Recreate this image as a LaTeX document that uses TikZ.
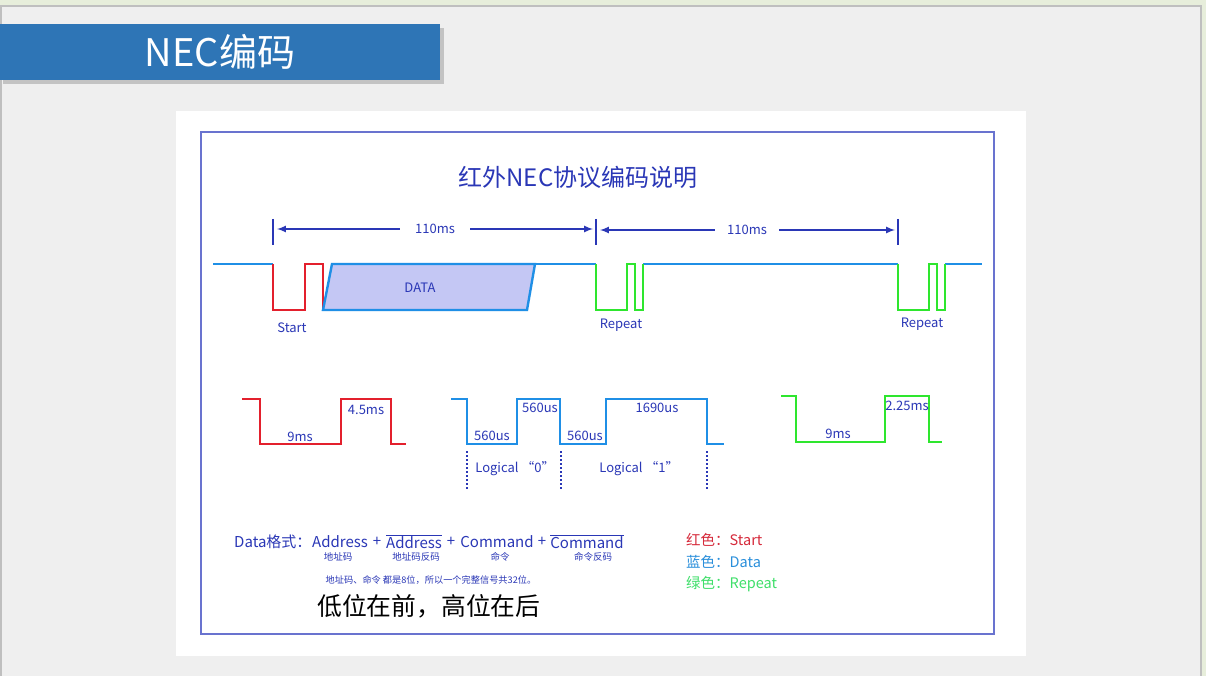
\documentclass[tikz,border=0pt]{standalone}
\usepackage{fontspec}
\setmainfont{Noto Sans CJK SC}
\usepackage{tikz}
\usetikzlibrary{
  calc,%
  positioning,%
  arrows
}
\definecolor{stripbg}{HTML}{E7EEDB}
\definecolor{pagebg}{HTML}{EFEFEF}
\definecolor{banner}{HTML}{2E75B6}
\definecolor{frameblue}{HTML}{6973CF}
\definecolor{ink}{HTML}{2A37B6}
\definecolor{sigred}{HTML}{E3202D}
\definecolor{sigblue}{HTML}{1F8FE6}
\definecolor{siggreen}{HTML}{2EE62E}
\definecolor{datafill}{HTML}{C4C7F4}
\definecolor{keyred}{HTML}{D62A3B}
\definecolor{keyblue}{HTML}{2A8FDB}
\definecolor{keygreen}{HTML}{3FDF6A}
\tikzset{>=latex}
\tikzset{
  lbl/.style={text=ink, inner sep=0pt, font=\fontsize{13}{13}\selectfont},
  fmt/.style={text=ink, inner sep=0pt, font=\fontsize{15}{15}\selectfont},
  sub/.style={text=ink, inner sep=0pt, font=\fontsize{9.5}{9.5}\selectfont},
  key/.style={inner sep=0pt, anchor=west, font=\fontsize{14.5}{14.5}\selectfont},
  wave/.style={line width=2.4pt, line join=miter},
  dim/.style={ink, line width=2pt},
  split/.style={ink, line width=1.5pt, dash pattern=on 1.5pt off 2.5pt},
}

\begin{document}
\begin{tikzpicture}[x=1pt, y=-1pt]
  \useasboundingbox (0,0) rectangle (1206,676);
  % slide background
  \fill[stripbg] (0,0) rectangle (1206,676); %
  \filldraw[fill=pagebg, draw=black!25, line width=1.5pt] (1,6) rectangle (1201,690); %
  \fill[black, opacity=0.18] (3,28) rectangle (444,84); %
  \fill[banner] (0,24) rectangle (440,80); %
  \node[text=white, font=\fontsize{38}{38}\selectfont] (head) at (220,52) {NEC编码};
  % picture panel
  \fill[white] (176,111) rectangle (1026,656); %
  \draw[frameblue, line width=1.3pt] (201,132) rectangle (994,634); %
  \node[text=ink, font=\fontsize{24}{24}\selectfont] (title) at (578,177) {红外NEC协议编码说明};

  % 110ms spans
  \coordinate (t1) at (273,232); %
  \coordinate (t2) at (596,232); %
  \coordinate (t3) at (898,232); %
  \foreach \t in {t1,t2,t3}
    \draw[dim] (\t) ++(0,-13) -- ++(0,26); %
  \node[lbl, inner xsep=15pt] (span1) at (435,229) {110ms};
  \node[lbl, inner xsep=12pt] (span2) at (747,230) {110ms};
  \draw[dim, <-, shorten <=4pt] (t1 |- span1) -- (span1.west); %
  \draw[dim, ->, shorten >=3pt] (span1.east) -- (t2 |- span1); %
  \draw[dim, <-, shorten <=4pt] (t2 |- span2) -- (span2.west); %
  \draw[dim, ->, shorten >=3pt] (span2.east) -- (t3 |- span2); %

  % frame of pulses
  \draw[wave, sigblue] (213,264) -- (273,264); %
  \draw[wave, sigred] (273,264) -- ++(0,46) -- ++(32,0) -- ++(0,-46)
    -- ++(18,0) -- ++(0,46); %
  \filldraw[wave, draw=sigblue, fill=datafill] (323,310) -- (332,264)
    -- (535,264) -- (527,310) -- cycle; %
  \draw[wave, sigblue] (535,264) -- (596,264); %
  \draw[wave, sigblue] (643,264) -- (898,264); %
  \draw[wave, sigblue] (945,264) -- (982,264); %
  \foreach \x in {596,898}
    \draw[wave, siggreen] (\x,264) -- ++(0,46) -- ++(31,0) -- ++(0,-46)
      -- ++(8,0) -- ++(0,46) -- ++(8,0) -- ++(0,-46); %
  \node[lbl] (start) at (292,328) {Start};
  \node[lbl] (data) at (420,288) {DATA};
  \node[lbl] (rep1) at (621,325) {Repeat};
  \node[lbl] (rep2) at (922,324) {Repeat};

  % start pulse
  \draw[wave, sigred] (242,399) -- (260,399) -- (260,444) -- (341,444)
    -- (341,399) -- (391,399) -- (391,444) -- (406,444); %
  \node[lbl] (lead) at (300,437) {9ms};
  \node[lbl] (gap) at (366,410) {4.5ms};

  % data bits
  \draw[wave, sigblue] (451,399) -- (467,399) -- (467,444) -- (517,444)
    -- (517,399) -- (560,399) -- (560,444) -- (606,444) -- (606,399)
    -- (707,399) -- (707,444) -- (724,444); %
  \node[lbl] (zlow) at (492,436) {560us};
  \node[lbl] (zhigh) at (540,408) {560us};
  \node[lbl] (olow) at (585,436) {560us};
  \node[lbl] (ohigh) at (657,408) {1690us};
  \foreach \x in {467,561,707}
    \draw[split] (\x,451) -- (\x,489); %
  \node[lbl] (bit0) at (515,469) {Logical “0”};
  \node[lbl] (bit1) at (639,469) {Logical “1”};

  % repeat pulse
  \draw[wave, siggreen] (781,396) -- (796,396) -- (796,442) -- (885,442)
    -- (885,396) -- (929,396) -- (929,442) -- (942,442); %
  \node[lbl] (rlead) at (838,434) {9ms};
  \node[lbl] (rgap) at (907,406) {2.25ms};

  % data format
  \node[fmt, anchor=west] (fmtname) at (234,542) {Data格式：};
  \node[fmt] (addr) at (340,542) {Address};
  \node[fmt] (plus1) at (377,542) {+};
  \node[fmt] (naddr) at (414,542) {$\overline{\mbox{Address}}$};
  \node[fmt] (plus2) at (451,542) {+};
  \node[fmt] (cmd) at (497,542) {Command};
  \node[fmt] (plus3) at (542,542) {+};
  \node[fmt] (ncmd) at (587,542) {$\overline{\mbox{Command}}$};
  \node[sub] (addrzh) at (338,557) {地址码};
  \node[sub] (naddrzh) at (416,557) {地址码反码};
  \node[sub] (cmdzh) at (500,557) {命令};
  \node[sub] (ncmdzh) at (593,557) {命令反码};
  \node[sub, font=\fontsize{9.2}{9.2}\selectfont] (bits) at (431,580)
    {地址码、命令 都是8位，所以一个完整信号共32位。};
  \node[inner sep=0pt, anchor=west, font=\fontsize{24.8}{24.8}\selectfont] (order)
    at (317,606) {低位在前，高位在后};

  % colour key
  \node[key, text=keyred] (kred) at (686,540) {红色：Start};
  \node[key, text=keyblue] (kblue) at (686,562) {蓝色：Data};
  \node[key, text=keygreen] (kgreen) at (686,584) {绿色：Repeat};
\end{tikzpicture}
\end{document}
